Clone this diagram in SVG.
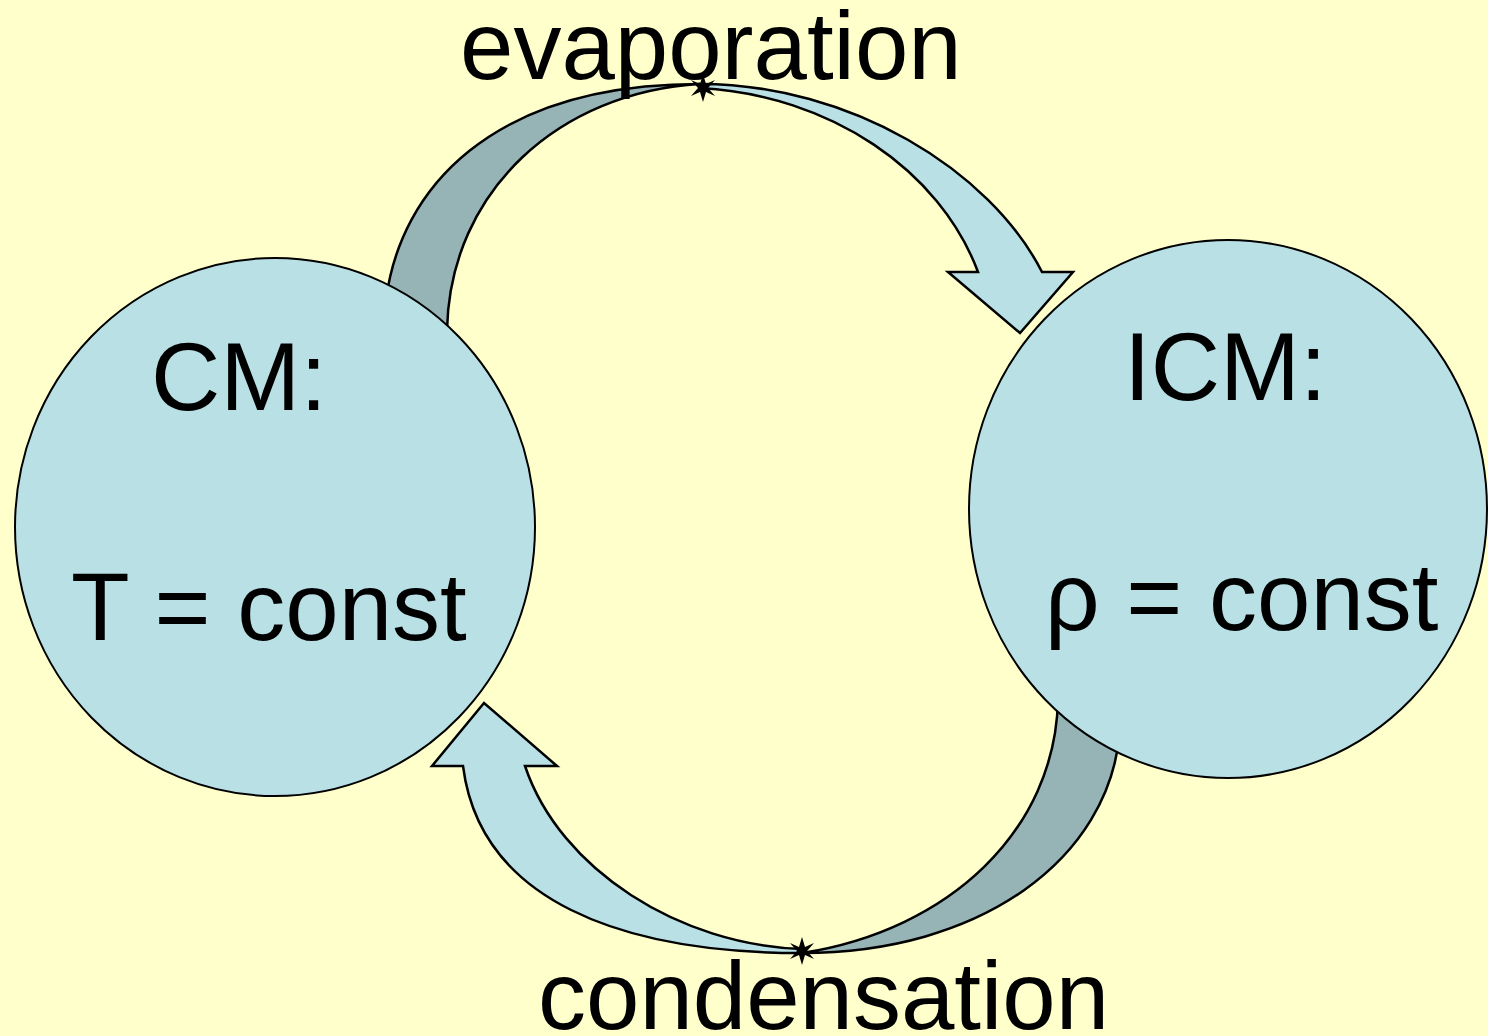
<svg xmlns="http://www.w3.org/2000/svg" width="1488" height="1036" viewBox="0 0 1488 1036">
<style>
.bg{fill:#FFFFCC}
.node{fill:#B9E0E4;stroke:#000;stroke-width:2}
.front{fill:#B9E0E4;stroke:#000;stroke-width:2.5;stroke-linejoin:miter}
.back{fill:#96B4B6;stroke:#000;stroke-width:2.5}
.t{font-family:"Liberation Sans",Arial,sans-serif;font-size:96px;fill:#000}
.lbl{font-family:"Liberation Sans",Arial,sans-serif;font-size:96px;fill:#000}
</style>
<defs>
<polygon id="star" points="0,-14 3,-4 12,-8 5,0 12,8 3,4 0,14 -3,4 -12,8 -5,0 -12,-8 -3,-4" fill="#000"/>
</defs>
<rect class="bg" x="0" y="0" width="1488" height="1036"/>
<g id="connectors">
<g id="evaporation-arrow">
<path class="back" d="M386,300 C400,190 490,84 700,84 C560,92 450,190 447,330 Z"/>
<path class="front" d="M700,84 C850,84 990,170 1042,272 L1073,272 L1020,333 L948,272 L978,272 C940,170 830,95 700,88 Z"/>
<use href="#star" x="703" y="88"/>
</g>
<g id="condensation-arrow">
<path class="back" d="M1120,730 C1110,860 980,953 802,953 C950,930 1055,830 1058,700 Z"/>
<path class="front" d="M802,953 C620,953 480,900 463,766 L432,766 L484,703 L557,766 L525,766 C560,870 680,945 802,949 Z"/>
<use href="#star" x="802" y="951"/>
</g>
</g>
<g id="node-cm">
<ellipse class="node" cx="275" cy="527" rx="260" ry="269"/>
<text class="t" x="151" y="410">CM:</text>
<text class="t" x="71" y="640">T = const</text>
</g>
<g id="node-icm">
<ellipse class="node" cx="1228" cy="509" rx="259" ry="269"/>
<text class="t" x="1124" y="400">ICM:</text>
<text class="t" x="1045" y="630">ρ = const</text>
</g>
<g id="labels">
<text class="lbl" x="460" y="79">evaporation</text>
<text class="lbl" x="538" y="1029">condensation</text>
</g>
</svg>
